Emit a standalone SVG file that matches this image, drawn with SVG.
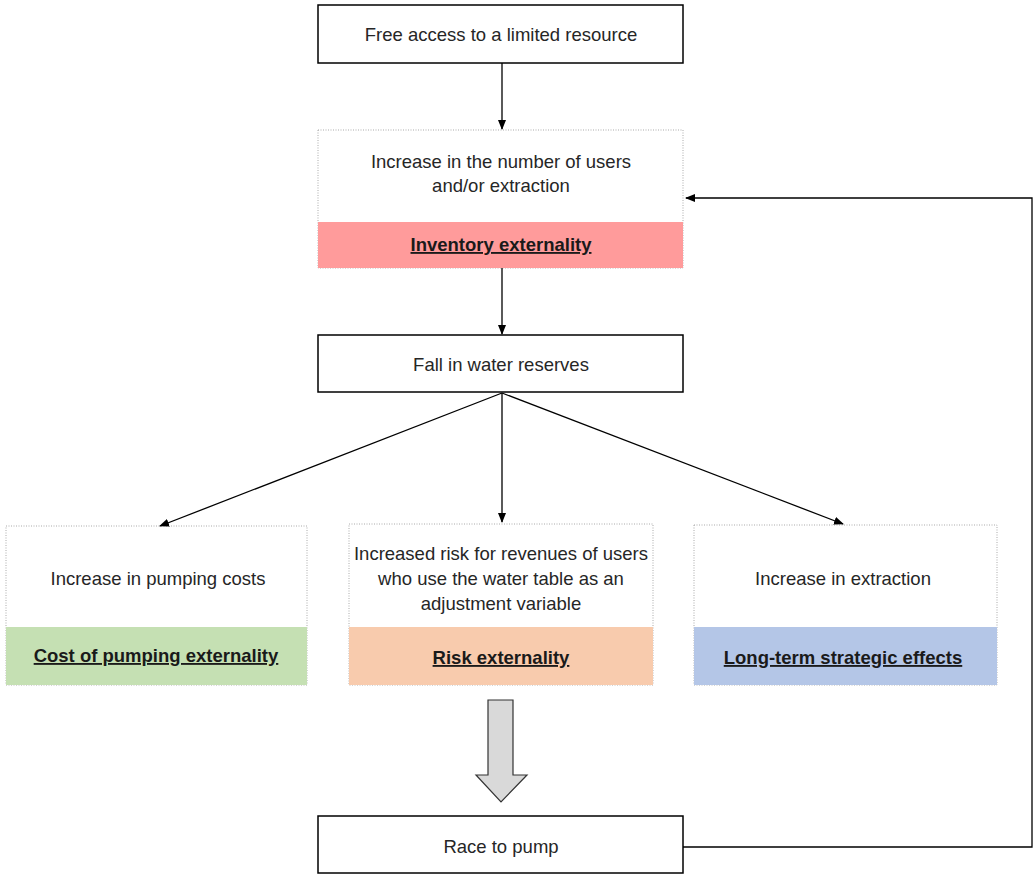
<svg xmlns="http://www.w3.org/2000/svg" width="1035" height="875" viewBox="0 0 1035 875">
<style>
.t{font-family:"Liberation Sans",Arial,sans-serif;font-size:18.5px;fill:#262626;text-anchor:middle}
.b{font-weight:bold;text-decoration:underline;fill:#1a1a1a}
.box{fill:#fff;stroke:#000;stroke-width:1.5}
.dot{fill:#fff;stroke:#aaa;stroke-width:1;stroke-dasharray:1,1.5}
.c{stroke:#000;stroke-width:1.3;fill:none}
</style>
<defs>
<marker id="ah" markerWidth="10" markerHeight="8" refX="9" refY="4" orient="auto" markerUnits="userSpaceOnUse">
<path d="M0,0 L10,4 L0,8 Z" fill="#000"/>
</marker>
</defs>
<rect width="1035" height="875" fill="#fff"/>
<g id="n1">
<rect class="box" x="318" y="5" width="365" height="58"/>
<text class="t" x="501" y="41">Free access to a limited resource</text>
</g>
<g id="n2">
<rect class="dot" x="318" y="130" width="365" height="138"/>
<rect x="318" y="222" width="365" height="46" fill="#FF9B9B"/>
<text class="t" x="501" y="168">Increase in the number of users</text>
<text class="t" x="501" y="192">and/or extraction</text>
<text class="t b" x="501" y="251">Inventory externality</text>
</g>
<g id="n3">
<rect class="box" x="318" y="335" width="365" height="57"/>
<text class="t" x="501" y="371">Fall in water reserves</text>
</g>
<g id="n4">
<rect class="dot" x="6" y="526" width="301" height="159"/>
<rect x="6" y="627" width="301" height="58" fill="#C5E0B3"/>
<text class="t" x="158" y="585">Increase in pumping costs</text>
<text class="t b" x="156" y="662">Cost of pumping externality</text>
</g>
<g id="n5">
<rect class="dot" x="349" y="524" width="304" height="161"/>
<rect x="349" y="627" width="304" height="58" fill="#F8CBAD"/>
<text class="t" x="501" y="560">Increased risk for revenues of users</text>
<text class="t" x="501" y="585">who use the water table as an</text>
<text class="t" x="501" y="610">adjustment variable</text>
<text class="t b" x="501" y="664">Risk externality</text>
</g>
<g id="n6">
<rect class="dot" x="694" y="525" width="303" height="160"/>
<rect x="694" y="627" width="303" height="58" fill="#B4C6E7"/>
<text class="t" x="843" y="585">Increase in extraction</text>
<text class="t b" x="843" y="664">Long-term strategic effects</text>
</g>
<g id="n7">
<rect class="box" x="318" y="816" width="365" height="57"/>
<text class="t" x="501" y="853">Race to pump</text>
</g>
<g id="connectors">
<line class="c" x1="502" y1="63" x2="502" y2="129" marker-end="url(#ah)"/>
<line class="c" x1="502" y1="268" x2="502" y2="334" marker-end="url(#ah)"/>
<line class="c" x1="502" y1="393" x2="160" y2="526" marker-end="url(#ah)"/>
<line class="c" x1="502" y1="393" x2="502" y2="522" marker-end="url(#ah)"/>
<line class="c" x1="502" y1="393" x2="843" y2="524" marker-end="url(#ah)"/>
<polyline class="c" points="683,847 1032,847 1032,198 686,198" marker-end="url(#ah)"/>
<path d="M488,700 L513,700 L513,775 L527,775 L501,802 L476,775 L488,775 Z" fill="#D9D9D9" stroke="#333" stroke-width="1.2"/>
</g>
</svg>
